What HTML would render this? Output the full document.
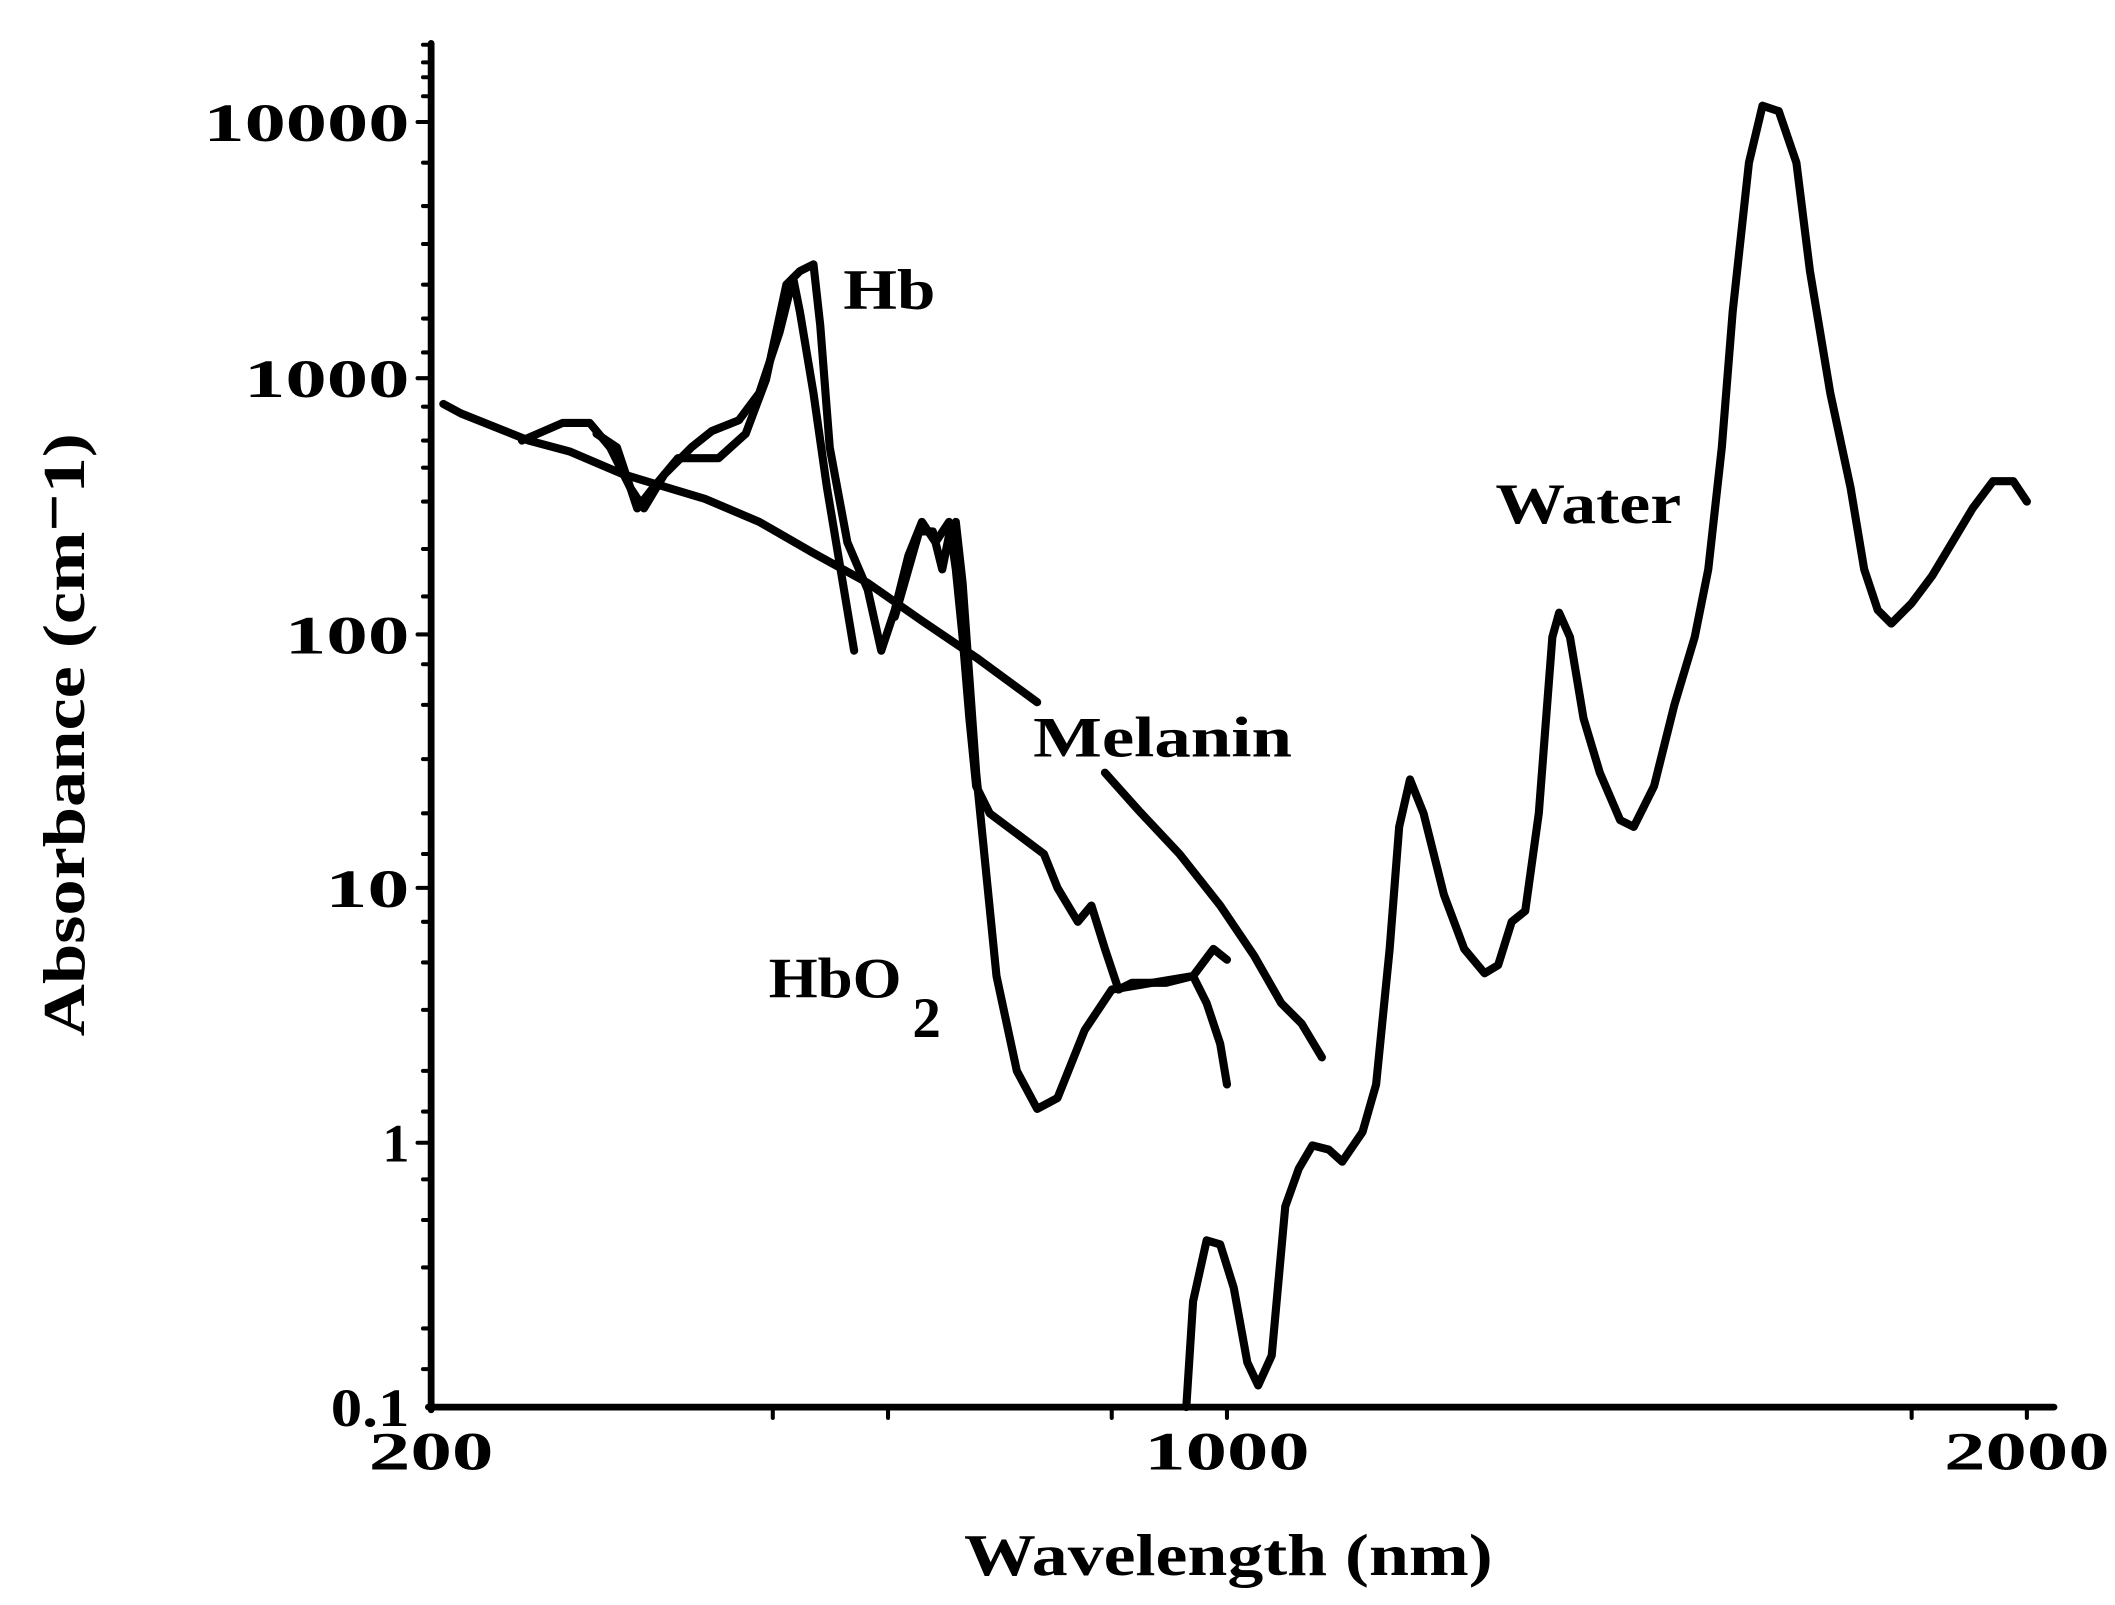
<!DOCTYPE html>
<html><head><style>
html,body{margin:0;padding:0;background:#fff;}
svg{display:block;}
text{font-family:"Liberation Serif",serif;font-weight:bold;fill:#000;}
</style></head><body>
<svg width="2115" height="1605" viewBox="0 0 1560 1184" preserveAspectRatio="none" xmlns="http://www.w3.org/2000/svg">
<g stroke="#000" fill="none" stroke-linecap="round" stroke-linejoin="round">
<line x1="318" y1="32" x2="318" y2="1040" stroke-width="5"/>
<line x1="316" y1="1038" x2="1515" y2="1038" stroke-width="5"/>
<g stroke-width="3">
<line x1="308" y1="90" x2="318" y2="90"/><line x1="308" y1="279" x2="318" y2="279"/>
<line x1="308" y1="468" x2="318" y2="468"/><line x1="308" y1="655" x2="318" y2="655"/>
<line x1="308" y1="843" x2="318" y2="843"/>
<line x1="312" y1="33" x2="318" y2="33"/><line x1="312" y1="46" x2="318" y2="46"/><line x1="312" y1="57" x2="318" y2="57"/><line x1="312" y1="71" x2="318" y2="71"/><line x1="312" y1="120" x2="318" y2="120"/><line x1="312" y1="152" x2="318" y2="152"/><line x1="312" y1="180" x2="318" y2="180"/><line x1="312" y1="210" x2="318" y2="210"/><line x1="312" y1="235" x2="318" y2="235"/><line x1="312" y1="260" x2="318" y2="260"/>
<line x1="312" y1="300" x2="318" y2="300"/><line x1="312" y1="325" x2="318" y2="325"/><line x1="312" y1="345" x2="318" y2="345"/><line x1="312" y1="370" x2="318" y2="370"/><line x1="312" y1="405" x2="318" y2="405"/><line x1="312" y1="440" x2="318" y2="440"/>
<line x1="312" y1="490" x2="318" y2="490"/><line x1="312" y1="520" x2="318" y2="520"/><line x1="312" y1="560" x2="318" y2="560"/><line x1="312" y1="600" x2="318" y2="600"/><line x1="312" y1="630" x2="318" y2="630"/>
<line x1="312" y1="680" x2="318" y2="680"/><line x1="312" y1="710" x2="318" y2="710"/><line x1="312" y1="745" x2="318" y2="745"/><line x1="312" y1="790" x2="318" y2="790"/><line x1="312" y1="820" x2="318" y2="820"/>
<line x1="312" y1="870" x2="318" y2="870"/><line x1="312" y1="900" x2="318" y2="900"/><line x1="312" y1="935" x2="318" y2="935"/><line x1="312" y1="980" x2="318" y2="980"/><line x1="312" y1="1010" x2="318" y2="1010"/>
<line x1="570" y1="1038" x2="570" y2="1046"/><line x1="655" y1="1038" x2="655" y2="1046"/><line x1="820" y1="1038" x2="820" y2="1046"/><line x1="905" y1="1038" x2="905" y2="1046"/><line x1="1410" y1="1038" x2="1410" y2="1046"/><line x1="1495" y1="1038" x2="1495" y2="1046"/>
</g>
<g stroke-width="6">
<polyline points="327,298 340,305 390,325 420,333 460,350 520,368 560,385 600,408 640,430 680,458 720,485 765,518"/>
<polyline points="815,570 840,598 870,630 900,668 925,705 945,740 960,755 975,780"/>
<polyline points="385,325 415,312 435,312 450,330 465,360 475,375 490,350 510,330 525,318 545,310 560,290 575,245 585,205 590,230 600,290 610,360 620,420 630,480"/>
<polyline points="440,320 455,330 470,375 480,362 500,338 530,338 550,320 565,280 580,210 590,200 600,195 605,240 612,330 625,400 640,435 650,480 660,450 670,410 680,385 690,400 700,385 705,420 710,470 715,530 720,580 730,600 750,615 770,630 780,655 795,680 805,668 815,700 825,730 835,725 860,725 880,720 890,740 900,770 905,800"/>
<polyline points="660,455 670,420 678,392 688,392 695,420 700,395 705,385 710,430 715,500 720,570 725,620 735,720 750,790 765,818 780,810 800,760 820,730 850,725 880,720 895,700 905,708"/>
<polyline points="875,1038 880,960 890,915 900,918 910,950 920,1005 928,1022 938,1000 948,890 958,862 968,845 980,848 990,857 1005,835 1015,800 1025,700 1032,610 1040,575 1050,600 1065,660 1080,700 1095,718 1105,712 1115,680 1125,672 1135,600 1145,470 1150,452 1158,470 1168,530 1180,570 1195,605 1205,610 1220,580 1235,520 1250,470 1260,420 1270,330 1278,230 1290,120 1300,78 1312,82 1325,120 1335,200 1350,290 1365,360 1375,420 1385,450 1395,460 1410,445 1425,425 1440,400 1455,375 1470,355 1485,355 1495,370"/>
</g>
</g>
<g font-size="40" text-anchor="end" lengthAdjust="spacingAndGlyphs">
<text x="302" y="104" textLength="152" lengthAdjust="spacingAndGlyphs">10000</text>
<text x="302" y="293" textLength="122" lengthAdjust="spacingAndGlyphs">1000</text>
<text x="302" y="482" textLength="92" lengthAdjust="spacingAndGlyphs">100</text>
<text x="302" y="669" textLength="62" lengthAdjust="spacingAndGlyphs">10</text>
<text x="302" y="857">1</text>
<text x="302" y="1052" textLength="58" lengthAdjust="spacingAndGlyphs">0.1</text>
</g>
<g font-size="40" text-anchor="middle">
<text x="318" y="1084" textLength="92" lengthAdjust="spacingAndGlyphs">200</text>
<text x="905" y="1084" textLength="122" lengthAdjust="spacingAndGlyphs">1000</text>
<text x="1495" y="1084" textLength="122" lengthAdjust="spacingAndGlyphs">2000</text>
</g>
<text x="906" y="1162" font-size="44" text-anchor="middle" textLength="390" lengthAdjust="spacingAndGlyphs">Wavelength (nm)</text>
<text transform="translate(62,542) rotate(-90)" font-size="44" text-anchor="middle" textLength="445" lengthAdjust="spacingAndGlyphs">Absorbance (cm⁻1)</text>
<text x="622" y="228" font-size="42" textLength="68" lengthAdjust="spacingAndGlyphs">Hb</text>
<text x="1103" y="386" font-size="42" textLength="137" lengthAdjust="spacingAndGlyphs">Water</text>
<text x="762" y="558" font-size="42" textLength="191" lengthAdjust="spacingAndGlyphs">Melanin</text>
<text x="567" y="736" font-size="42" textLength="98" lengthAdjust="spacingAndGlyphs">HbO</text>
<text x="673" y="765" font-size="42">2</text>
</svg>
</body></html>
